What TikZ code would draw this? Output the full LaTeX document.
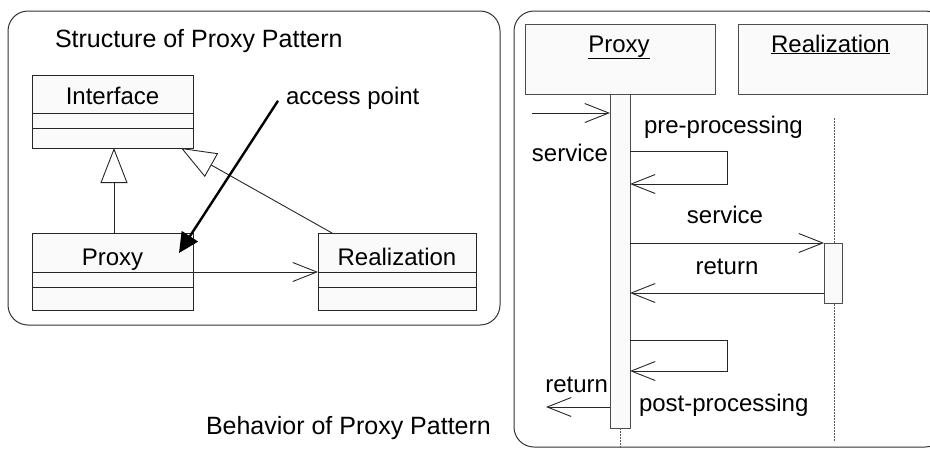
\documentclass[tikz,border=0pt]{standalone}
\usepackage{fontspec}
\setmainfont{Liberation Sans}
\usetikzlibrary{arrows.meta,calc}

\tikzset{
  ink/.style={draw=black!85, line width=0.9pt},
  classbox/.style={rectangle, draw=black!85, line width=0.9pt, fill=black!2,
    inner sep=0pt, outer sep=0pt, anchor=north west},
  lifebox/.style={rectangle, draw=black!70, line width=0.9pt, fill=black!2,
    inner sep=0pt, outer sep=0pt, anchor=north west},
  frame/.style={draw=black!80, line width=1pt, rounded corners=20pt},
  txt/.style={inner sep=0pt, outer sep=0pt, font=\fontsize{24}{28}\selectfont},
  heading/.style={inner sep=0pt, outer sep=0pt, font=\fontsize{25}{29}\selectfont},
  msg/.style={draw=black!85, line width=0.9pt,
    -{Straight Barb[length=24pt 0 0,width=19pt 0 0]}},
  gen/.style={draw=black!85, line width=0.9pt,
    -{Triangle[open,length=35pt 0 0,width=27pt 0 0,fill=white]}},
  pointer/.style={draw=black, line width=2.4pt,
    -{Triangle[length=20pt 0 0,width=19pt 0 0]}},
  lifeline/.style={draw=black!65, line width=0.9pt, dash pattern=on 2pt off 1pt},
}

\begin{document}
\begin{tikzpicture}[x=1pt, y=-1pt]
  \useasboundingbox (0,0) rectangle (930,448);
  \clip (0,0) rectangle (930,448);

  % ---------- frames ----------
  \draw[frame] (8,11) rectangle (500,325);
  \draw[frame] (514,11) rectangle (945,447);

  % ---------- class structure ----------
  \node[heading, anchor=base west] (title) at (55,47) {Structure of Proxy Pattern};

  \node[classbox, minimum width=161pt, minimum height=73pt] (iface) at (32,75) {};
  \node[classbox, minimum width=161pt, minimum height=77pt] (proxy) at (32,233) {};
  \node[classbox, minimum width=158pt, minimum height=77pt] (real) at (318,233) {};

  \draw[ink] ($(iface.north west)+(0,38)$) -- ($(iface.north east)+(0,38)$);
  \draw[ink] ($(iface.north west)+(0,53)$) -- ($(iface.north east)+(0,53)$);
  \draw[ink] ($(proxy.north west)+(0,39)$) -- ($(proxy.north east)+(0,39)$);
  \draw[ink] ($(proxy.north west)+(0,54)$) -- ($(proxy.north east)+(0,54)$);
  \draw[ink] ($(real.north west)+(0,39)$) -- ($(real.north east)+(0,39)$);
  \draw[ink] ($(real.north west)+(0,54)$) -- ($(real.north east)+(0,54)$);

  \node[txt, anchor=base] (ifaceName) at ($(iface.north)+(0,29)$) {Interface};
  \node[txt, anchor=base] (proxyName) at ($(proxy.north)+(0,32)$) {Proxy};
  \node[txt, anchor=base] (realName) at ($(real.north)+(0,32)$) {Realization};

  % generalisations
  \draw[gen] ($(proxy.north west)+(82,0)$) -- ($(iface.south west)+(82,0)$);
  \draw[gen] ($(real.north west)+(14,0)$) -- ($(iface.south east)+(-12,0)$);

  % association
  \draw[msg] ($(proxy.north east)+(0,39)$) -- ($(real.north west)+(0,39)$);

  % access point
  \node[txt, anchor=base west] (ap) at (286,104) {access point};
  \draw[pointer] ($(ap.west)+(-8,3)$) -- ($(proxy.north east)+(-14,20)$);

  % ---------- sequence ----------
  \node[lifebox, minimum width=190pt, minimum height=70pt] (phead) at (525,24) {};
  \node[lifebox, minimum width=189pt, minimum height=70pt] (rhead) at (738,24) {};
  \node[txt, anchor=base] (phName) at ($(phead.north)+(-1,28)$) {\underline{Proxy}};
  \node[txt, anchor=base] (rhName) at ($(rhead.north)+(-2,28)$) {\underline{Realization}};

  \node[lifebox, minimum width=20pt, minimum height=334pt] (pact) at (610,94) {};
  \coordinate (rtop) at (834,118);
  \coordinate (rbot) at (834,442);
  \draw[lifeline] (rtop) -- (rbot);
  \node[lifebox, minimum width=18pt, minimum height=60pt] (ract) at (824,243) {};
  \draw[lifeline] (pact.south) -- ++(0,22);

  % incoming call
  \coordinate (caller) at (532,113);
  \draw[msg] (caller) -- ($(pact.north west)+(0,19)$);
  \node[txt, anchor=base east] (svcIn) at (608,161) {service};

  % pre-processing self call
  \node[txt, anchor=base west] (pre) at (644,133) {pre-processing};
  \draw[msg] ($(pact.north east)+(0,57)$) -- ++(97,0) -- ++(0,33) -- ($(pact.north east)+(0,90)$);

  % call to the realization
  \node[txt, anchor=base] (svc) at (725,223) {service};
  \draw[msg] ($(pact.north east)+(0,149)$) -- (ract.north west);

  \node[txt, anchor=base] (ret) at (727,274) {return};
  \draw[msg] ($(ract.north west)+(0,50)$) -- ($(pact.north east)+(0,199)$);

  % post-processing self call
  \draw[msg] ($(pact.north east)+(0,246)$) -- ++(97,0) -- ++(0,31) -- ($(pact.north east)+(0,277)$);
  \node[txt, anchor=base west] (post) at (639,411) {post-processing};

  % return to the caller
  \node[txt, anchor=base east] (retOut) at (608,392) {return};
  \coordinate (back) at (546,407);
  \draw[msg] ($(pact.north west)+(0,313)$) -- (back);

  \node[heading, anchor=base west] (btitle) at (206,434) {Behavior of Proxy Pattern};
\end{tikzpicture}
\end{document}
